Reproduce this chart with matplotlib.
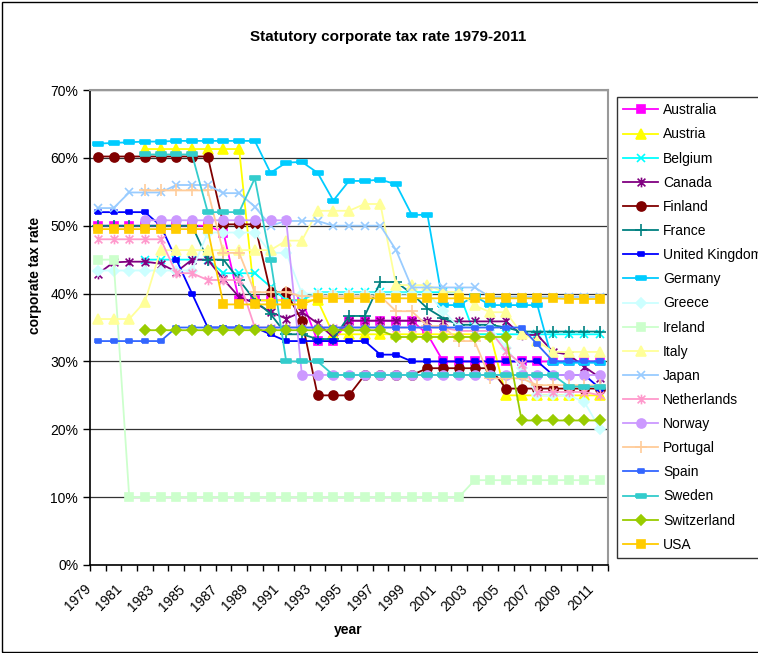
import numpy as np
import matplotlib
matplotlib.use("Agg")
import matplotlib.pyplot as plt
import matplotlib.transforms as mtransforms
from matplotlib.path import Path
from matplotlib.patches import Rectangle

plt.rcParams['font.family'] = ['Liberation Sans', 'DejaVu Sans']

nan = np.nan
years = list(range(1979, 2012))

# statutory rates (%), 1979..2011
australia = [50, 50, 50, 50, 50, 50, 50, 50, 49, 39, 39, 39, 39, 39, 33, 33, 36,
             36, 36, 36, 36, 34, 30, 30, 30, 30, 30, 30, 30, 30, 30, 30, 30]
austria = [nan, nan, nan, 61.3, 61.3, 61.3, 61.3, 61.3, 61.3, 61.3, 39, 39, 39, 39,
           39, 34, 34, 34, 34, 34, 34, 34, 34, 34, 34, 34, 25, 25, 25, 25, 25, 25, 25]
belgium = [nan, nan, nan, 45, 45, 45, 45, 45, 43, 43, 43, 41, 39, 39, 40.2, 40.2,
           40.2, 40.2, 40.2, 40.2, 40.2, 40.2, 40.2, 40.2, 34, 34, 34, 34, 34, 34, 34, 34, 34]
canada = [42.9, 44.6, 44.7, 44.7, 44.4, 43.2, 45.0, 45.0, 42.1, 39.5, 38.6, 37.3,
          36.3, 37.3, 35.6, 33.6, 36.0, 36.0, 36.0, 36.0, 36.0, 36.0, 35.9, 35.9,
          35.9, 35.9, 35.9, 33.9, 33.9, 31.4, 31.0, 29.2, 27.6]
finland = [60.2, 60.2, 60.2, 60.2, 60.2, 60.2, 60.2, 60.2, 50.2, 50.2, 50.2, 40.2,
           40.2, 36, 25, 25, 25, 28, 28, 28, 28, 29, 29, 29, 29, 29, 26, 26, 26, 26, 26, 26, 26]
france = [50, 50, 50, 50, 50, 50, 50, 45, 45, 42, 39, 37, 34, 34, 33.3, 33.3, 36.7,
          36.7, 41.7, 41.7, 40, 37.8, 36.4, 35.4, 35.4, 35.4, 35, 34.4, 34.4, 34.4,
          34.4, 34.4, 34.4]
united_kingdom = [52, 52, 52, 52, 50, 45, 40, 35, 35, 35, 35, 34, 33, 33, 33, 33, 33,
                  33, 31, 31, 30, 30, 30, 30, 30, 30, 30, 30, 30, 28, 28, 28, 26]
germany = [62.1, 62.2, 62.3, 62.4, 62.4, 62.5, 62.5, 62.5, 62.5, 62.5, 62.5, 57.8,
           59.3, 59.4, 57.8, 53.7, 56.6, 56.6, 56.8, 56.1, 51.6, 51.6, 38.3, 38.3,
           39.6, 38.3, 38.3, 38.3, 38.3, 29.8, 29.8, 29.8, 29.8]
greece = [43.4, 43.4, 43.4, 43.4, 43.4, 43.4, 43.4, 49, 49, 49, 49, 46, 46, 40, 40,
          40, 40, 40, 40, 40, 40, 40, 37.5, 35, 35, 35, 32, 29, 25, 25, 25, 24, 20]
ireland = [45, 45, 10, 10, 10, 10, 10, 10, 10, 10, 10, 10, 10, 10, 10, 10, 10, 10,
           10, 10, 10, 10, 10, 10, 12.5, 12.5, 12.5, 12.5, 12.5, 12.5, 12.5, 12.5, 12.5]
italy = [36.25, 36.25, 36.25, 38.8, 46.4, 46.4, 46.4, 46.4, 46.4, 46.4, 46.4, 46.4,
         47.8, 47.8, 52.2, 52.2, 52.2, 53.2, 53.2, 41.25, 41.25, 41.25, 40.25, 40.25,
         38.25, 37.25, 37.25, 34.1, 33, 31.4, 31.4, 31.4, 31.4]
japan = [52.6, 52.6, 54.9, 54.9, 54.9, 56, 56, 56, 54.8, 54.8, 52.8, 50.0, 50.7,
         50.7, 50.7, 50.0, 50.0, 50.0, 50.0, 46.4, 40.9, 40.9, 40.9, 40.9, 40.9,
         39.5, 39.5, 39.5, 39.5, 39.5, 39.5, 39.5, 39.5]
netherlands = [48, 48, 48, 48, 48, 43, 43, 42, 42, 42, 35, 35, 35, 35, 35, 35, 35,
               35, 35, 35, 35, 35, 35, 34.5, 34.5, 34.5, 31.5, 29.6, 25.5, 25.5, 25.5, 25.5, 25]
norway = [nan, nan, nan, 50.8, 50.8, 50.8, 50.8, 50.8, 50.8, 50.8, 50.8, 50.8, 50.8,
          28, 28, 28, 28, 28, 28, 28, 28, 28, 28, 28, 28, 28, 28, 28, 28, 28, 28, 28, 28]
portugal = [nan, nan, nan, 55.2, 55.2, 55.2, 55.2, 55.2, 46, 46, 40.2, 40.2, 40.2,
            39.6, 39.6, 39.6, 39.6, 39.6, 39.6, 37.4, 37.4, 35.2, 35.2, 33, 33, 27.5,
            27.5, 27.5, 26.5, 26.5, 26.5, 26.5, 26.5]
spain = [33, 33, 33, 33, 33, 35, 35, 35, 35, 35, 35, 35, 35, 35, 35, 35, 35, 35, 35,
         35, 35, 35, 35, 35, 35, 35, 35, 35, 32.5, 30, 30, 30, 30]
sweden = [nan, nan, nan, 60.5, 60.5, 60.5, 60.5, 52, 52, 52, 57, 45, 30, 30, 30, 28,
          28, 28, 28, 28, 28, 28, 28, 28, 28, 28, 28, 28, 28, 28, 26.3, 26.3, 26.3]
switzerland = [nan, nan, nan, 34.6, 34.6, 34.6, 34.6, 34.6, 34.6, 34.6, 34.6, 34.6,
               34.6, 34.6, 34.6, 34.6, 34.6, 34.6, 34.6, 33.6, 33.6, 33.6, 33.6, 33.6,
               33.6, 33.6, 33.6, 21.3, 21.3, 21.3, 21.3, 21.3, 21.3]
usa = [49.5, 49.5, 49.5, 49.5, 49.5, 49.5, 49.5, 49.5, 38.4, 38.4, 38.4, 38.4, 38.4,
       38.4, 39.3, 39.3, 39.3, 39.3, 39.3, 39.3, 39.3, 39.3, 39.3, 39.3, 39.3, 39.3,
       39.3, 39.3, 39.3, 39.3, 39.2, 39.2, 39.2]

# marker shapes in the Excel style
asterisk = Path([(0, -1), (0, 1), (-0.8, -0.8), (0.8, 0.8), (-0.8, 0.8), (0.8, -0.8)],
                [Path.MOVETO, Path.LINETO] * 3)
wide_bar = Path([(-1, -0.35), (1, -0.35), (1, 0.35), (-1, 0.35), (-1, -0.35)])
small_bar = Path([(-1, -0.6), (1, -0.6), (1, 0.6), (-1, 0.6), (-1, -0.6)])

series = [
    ("Australia", australia, "#FF00FF", "s", 6),
    ("Austria", austria, "#FFFF00", "^", 7),
    ("Belgium", belgium, "#00FFFF", "x", 6),
    ("Canada", canada, "#800080", asterisk, 7),
    ("Finland", finland, "#800000", "o", 6.5),
    ("France", france, "#008080", "+", 8),
    ("United Kingdom", united_kingdom, "#0000FF", small_bar, 5),
    ("Germany", germany, "#00CCFF", wide_bar, 7.5),
    ("Greece", greece, "#CCFFFF", "D", 5.5),
    ("Ireland", ireland, "#CCFFCC", "s", 6),
    ("Italy", italy, "#FFFF99", "^", 7),
    ("Japan", japan, "#99CCFF", "x", 6),
    ("Netherlands", netherlands, "#FF99CC", asterisk, 7),
    ("Norway", norway, "#CC99FF", "o", 6.5),
    ("Portugal", portugal, "#FFCC99", "+", 8),
    ("Spain", spain, "#3366FF", small_bar, 5),
    ("Sweden", sweden, "#33CCCC", wide_bar, 7.5),
    ("Switzerland", switzerland, "#99CC00", "D", 5.5),
    ("USA", usa, "#FFCC00", "s", 6),
]

fig = plt.figure(figsize=(7.58, 6.53), dpi=100)
fig.patches.append(Rectangle((0.002, 0.002), 1.2, 0.995, transform=fig.transFigure,
                             fill=False, edgecolor="black", linewidth=1))
ax = fig.add_axes([90 / 758, 88 / 653, 518 / 758, 475 / 653])

x = np.arange(len(years))
for name, vals, color, marker, ms in series:
    ax.plot(x, vals, color=color, linewidth=1.3, marker=marker, markersize=ms,
            markerfacecolor=color, markeredgecolor=color, markeredgewidth=1.2,
            label=name, zorder=3)

ax.set_xlim(-0.5, len(years) - 0.5)
ax.set_ylim(0, 70)
ax.set_yticks(range(0, 71, 10))
ax.set_yticklabels([f"{v}%" for v in range(0, 71, 10)], fontsize=10)
ax.yaxis.grid(True, color="#333333", linewidth=0.9)
ax.set_axisbelow(True)

ax.set_xticks(np.arange(-0.5, len(years), 1))
ax.set_xticklabels([])
ax.tick_params(axis="x", direction="out", length=4, width=1)
ax.tick_params(axis="y", direction="out", length=5, width=1)
off = mtransforms.offset_copy(ax.transData, fig=fig, x=-9, y=-22, units="dots")
for i, yr in enumerate(years):
    if i % 2 == 0:
        ax.text(i, 0, str(yr), transform=off, rotation=45, ha="right", va="center",
                rotation_mode="anchor", fontsize=10)

for side in ["top", "right"]:
    ax.spines[side].set_color("#999999")
    ax.spines[side].set_linewidth(1.5)
ax.spines["left"].set_linewidth(1.2)
ax.spines["bottom"].set_linewidth(1.2)

fig.text(388 / 758, 1 - 37 / 653, "Statutory corporate tax rate 1979-2011",
         ha="center", va="center", fontsize=11, fontweight="bold")
fig.text(35 / 758, 1 - 275 / 653, "corporate tax rate", ha="center", va="center",
         rotation=90, fontsize=10, fontweight="bold")
fig.text(348 / 758, 1 - 630 / 653, "year", ha="center", va="center",
         fontsize=10, fontweight="bold")

leg = fig.legend(loc="upper left", bbox_to_anchor=(617 / 758, 1 - 97 / 653),
                 frameon=True, fancybox=False, edgecolor="black", fontsize=10,
                 handlelength=2.5, handletextpad=0.35, labelspacing=0.73,
                 borderpad=0.45, borderaxespad=0)
leg.get_frame().set_linewidth(1)

fig.savefig("out.png", dpi=100)
